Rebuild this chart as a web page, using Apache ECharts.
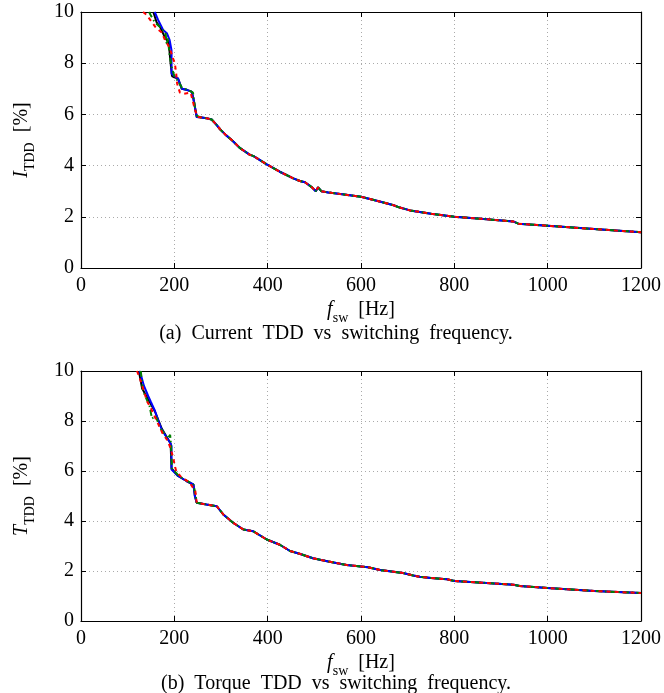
<!DOCTYPE html>
<html>
<head>
<meta charset="utf-8">
<script src="https://cdn.jsdelivr.net/npm/echarts@6/dist/echarts.min.js"></script>
<style>
html, body { margin: 0; padding: 0; background: #fff; }
#main { width: 664px; height: 693px; }
</style>
</head>
<body>
<div id="main"></div>
<script>
// x ticks / y ticks
var freqTicks = [0, 200, 400, 600, 800, 1000, 1200];
var tddTicks = [0, 2, 4, 6, 8, 10];

// (a) current TDD - common tail, all four curves lie on top of each other here
var curTailFreq = [255, 269, 280, 290, 298, 310, 323, 341, 362, 369, 398, 426, 455, 469, 480, 495, 503, 508, 515, 530, 560, 600, 640, 670, 683, 705, 750, 800, 857, 926, 937, 1000, 1100, 1200];
var curTailVal  = [5.89, 5.85, 5.80, 5.6, 5.42, 5.2, 5.0, 4.68, 4.42, 4.38, 4.05, 3.76, 3.5, 3.4, 3.35, 3.15, 3.0, 3.15, 3.0, 2.95, 2.88, 2.78, 2.6, 2.45, 2.36, 2.25, 2.12, 2.0, 1.92, 1.82, 1.73, 1.65, 1.52, 1.40];
// (a) steep part, per curve
var curBlackFreq = [155, 162, 170, 180, 188, 192, 195, 200, 208, 216, 228, 237, 241, 244, 248];
var curBlackVal  = [10, 9.6, 9.4, 9.0, 8.8, 8.0, 7.5, 7.45, 7.4, 7.0, 6.95, 6.89, 6.6, 6.3, 5.9];
var curBlueFreq = [158, 165, 176, 184, 190, 194, 194, 200, 208, 216, 228, 237, 241, 244, 248];
var curBlueVal  = [10, 9.7, 9.3, 9.17, 8.9, 8.5, 7.6, 7.5, 7.4, 7.0, 6.95, 6.89, 6.6, 6.3, 5.9];
var curGreenFreq = [146, 150, 158, 170, 181, 184, 186, 190, 195, 200, 208, 216, 230, 240, 244, 248];
var curGreenVal  = [10, 9.85, 9.6, 9.4, 9.2, 8.7, 9.0, 8.3, 7.8, 7.5, 7.3, 7.05, 6.95, 6.85, 6.3, 5.95];
var curRedFreq = [133, 140, 160, 173, 180, 190, 197, 201, 204, 206, 212, 219, 235, 244, 250];
var curRedVal  = [10, 9.9, 9.4, 9.2, 8.9, 8.6, 8.2, 8.0, 7.6, 7.2, 6.85, 6.8, 6.85, 6.2, 5.9];

// (b) torque TDD - common tail
var torTailFreq = [248, 269, 291, 305, 326, 348, 369, 398, 426, 448, 470, 497, 530, 569, 600, 615, 641, 690, 712, 726, 750, 784, 800, 860, 927, 940, 1000, 1100, 1200];
var torTailVal  = [4.73, 4.66, 4.59, 4.26, 3.93, 3.66, 3.59, 3.26, 3.05, 2.8, 2.68, 2.51, 2.38, 2.24, 2.18, 2.15, 2.04, 1.92, 1.82, 1.77, 1.72, 1.67, 1.6, 1.53, 1.45, 1.40, 1.32, 1.2, 1.12];
// (b) steep part, per curve
var torBlackFreq = [124, 131, 140, 158, 173, 184, 192, 194, 208, 226, 241, 244];
var torBlackVal  = [10, 9.3, 9.0, 8.4, 7.7, 7.35, 7.1, 6.1, 5.8, 5.6, 5.45, 5.0];
var torBlueFreq = [126, 135, 144, 150, 158.6, 166, 173, 184, 191, 194, 194, 200, 208, 226, 241, 244];
var torBlueVal  = [10, 9.4, 9.0, 8.75, 8.4, 8.0, 7.66, 7.33, 7.13, 7.0, 6.06, 5.95, 5.8, 5.6, 5.46, 5.0];
var torGreenFreq = [128, 133, 140, 147, 152, 160, 170, 186, 191, 193, 195, 210, 228, 241, 246];
var torGreenVal  = [10, 9.2, 8.9, 8.6, 8.1, 8.2, 7.7, 7.3, 7.45, 7.0, 6.1, 5.8, 5.6, 5.45, 5.0];
var torRedFreq = [120, 126, 135, 141, 150, 160, 175, 186, 192, 198, 201, 204, 215, 232, 245];
var torRedVal  = [10, 9.7, 9.2, 8.8, 8.5, 8.1, 7.5, 7.2, 6.9, 6.5, 6.2, 6.0, 5.75, 5.55, 5.2];

function pairs(hf, hv, tf, tv) {
    var out = [];
    for (var i = 0; i < hf.length; i++) out.push([hf[i], hv[i]]);
    for (var j = 0; j < tf.length; j++) out.push([tf[j], tv[j]]);
    return out;
}

var serifFont = '"Liberation Serif", "DejaVu Serif", serif';
var gridLine = { show: true, lineStyle: { color: '#aaa', type: [1, 3], width: 1 } };
var blackLine = { show: true, onZero: false, lineStyle: { color: '#000', width: 1.2 } };
var inTick = { show: true, inside: true, length: 5, lineStyle: { color: '#000' } };

var nameRich = {
    n: { fontFamily: serifFont, fontSize: 20, color: '#000', verticalAlign: 'bottom', padding: [0, 0, 5, 0] },
    i: { fontFamily: serifFont, fontSize: 20, fontStyle: 'italic', color: '#000', verticalAlign: 'bottom', padding: [0, 0, 5, 0] },
    s: { fontFamily: serifFont, fontSize: 14, color: '#000', verticalAlign: 'bottom' }
};

function plainNum(v) { return String(v); }

function xAxes(gi) {
    return [{
        gridIndex: gi, type: 'value', min: 0, max: 1200, interval: 200, position: 'bottom',
        axisLine: blackLine, axisTick: inTick, splitLine: gridLine,
        axisLabel: { color: '#000', fontFamily: serifFont, fontSize: 20, margin: 8, formatter: plainNum },
        name: '{i|f}{s|sw}{n|  [Hz]}', nameLocation: 'middle', nameGap: 32,
        nameTextStyle: { rich: nameRich }
    }, {
        gridIndex: gi, type: 'value', min: 0, max: 1200, interval: 200, position: 'top',
        axisLine: blackLine, axisTick: inTick, splitLine: { show: false }, axisLabel: { show: false }
    }];
}

function yAxes(gi, letter) {
    return [{
        gridIndex: gi, type: 'value', min: 0, max: 10, interval: 2, position: 'left',
        axisLine: blackLine, axisTick: inTick, splitLine: gridLine,
        axisLabel: { color: '#000', fontFamily: serifFont, fontSize: 20, margin: 7, formatter: plainNum },
        name: '{i|' + letter + '}{s|TDD}{n|  [%]}', nameLocation: 'middle', nameGap: 44, nameRotate: 90,
        nameTextStyle: { rich: nameRich }
    }, {
        gridIndex: gi, type: 'value', min: 0, max: 10, interval: 2, position: 'right',
        axisLine: blackLine, axisTick: inTick, splitLine: { show: false }, axisLabel: { show: false }
    }];
}

function curve(name, data, color, dash, xi, yi, z) {
    return {
        name: name, type: 'line', data: data, xAxisIndex: xi, yAxisIndex: yi,
        showSymbol: false, symbol: 'none', clip: true, z: z,
        lineStyle: { color: color, width: 2, type: dash }
    };
}

var chart = echarts.init(document.getElementById('main'));
var option = {
    animation: false,
    backgroundColor: '#fff',
    grid: [
        { left: 81, right: 23, top: 12, height: 256 },
        { left: 81, right: 23, top: 371, height: 250 }
    ],
    xAxis: xAxes(0).concat(xAxes(1)),
    yAxis: yAxes(0, 'I').concat(yAxes(1, 'T')),
    series: [
        curve('black', pairs(curBlackFreq, curBlackVal, curTailFreq, curTailVal), '#000', 'solid', 0, 0, 2),
        curve('blue', pairs(curBlueFreq, curBlueVal, curTailFreq, curTailVal), '#0000ff', 'solid', 0, 0, 3),
        curve('green', pairs(curGreenFreq, curGreenVal, curTailFreq, curTailVal), '#008000', [6, 3, 1.5, 3], 0, 0, 4),
        curve('red', pairs(curRedFreq, curRedVal, curTailFreq, curTailVal), '#ff0000', [4, 4], 0, 0, 5),
        curve('black', pairs(torBlackFreq, torBlackVal, torTailFreq, torTailVal), '#000', 'solid', 2, 2, 2),
        curve('blue', pairs(torBlueFreq, torBlueVal, torTailFreq, torTailVal), '#0000ff', 'solid', 2, 2, 3),
        curve('green', pairs(torGreenFreq, torGreenVal, torTailFreq, torTailVal), '#008000', [6, 3, 1.5, 3], 2, 2, 4),
        curve('red', pairs(torRedFreq, torRedVal, torTailFreq, torTailVal), '#ff0000', [4, 4], 2, 2, 5)
    ],
    graphic: [
        { type: 'text', x: 336, y: 334, style: { text: '(a)  Current  TDD  vs  switching  frequency.', font: '20px ' + serifFont, fill: '#000', align: 'center', verticalAlign: 'middle' } },
        { type: 'text', x: 336, y: 684, style: { text: '(b)  Torque  TDD  vs  switching  frequency.', font: '20px ' + serifFont, fill: '#000', align: 'center', verticalAlign: 'middle' } }
    ]
};
chart.setOption(option);
</script>
</body>
</html>
